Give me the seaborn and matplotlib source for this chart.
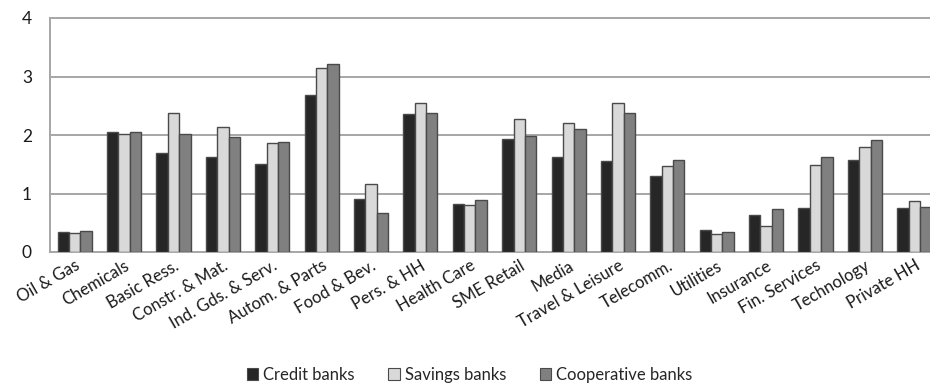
import matplotlib
matplotlib.use("Agg")
import matplotlib.pyplot as plt
from matplotlib.patches import Patch
import seaborn as sns
import pandas as pd

sectors = ["Oil & Gas", "Chemicals", "Basic Ress.", "Constr. & Mat.", "Ind. Gds. & Serv.",
           "Autom. & Parts", "Food & Bev.", "Pers. & HH", "Health Care", "SME Retail",
           "Media", "Travel & Leisure", "Telecomm.", "Utilities", "Insurance",
           "Fin. Services", "Technology", "Private HH"]
credit_banks = [0.34, 2.05, 1.70, 1.62, 1.50, 2.68, 0.90, 2.36, 0.82, 1.94,
                1.63, 1.55, 1.30, 0.38, 0.64, 0.75, 1.58, 0.75]
savings_banks = [0.32, 2.02, 2.38, 2.13, 1.86, 3.14, 1.17, 2.54, 0.80, 2.28,
                 2.21, 2.54, 1.47, 0.30, 0.44, 1.48, 1.79, 0.87]
cooperative_banks = [0.36, 2.05, 2.01, 1.97, 1.88, 3.22, 0.67, 2.37, 0.89, 1.98,
                     2.10, 2.38, 1.57, 0.34, 0.74, 1.63, 1.92, 0.77]
groups = ["Credit banks", "Savings banks", "Cooperative banks"]
colors = ["#262626", "#d9d9d9", "#808080"]
yticks = [0, 1, 2, 3, 4]

rows = []
for g, vals in zip(groups, [credit_banks, savings_banks, cooperative_banks]):
    for s, v in zip(sectors, vals):
        rows.append({"sector": s, "group": g, "value": v})
df = pd.DataFrame(rows)

sns.set_theme(style="white")
plt.rcParams["font.family"] = ["Lato", "DejaVu Sans"]

fig = plt.figure(figsize=(9.3, 3.92), dpi=100)
# plot area runs slightly past the right edge of the canvas
ax = fig.add_axes([50 / 930, 140 / 392, 889 / 930, 234 / 392])

sns.barplot(data=df, x="sector", y="value", hue="group", order=sectors,
            hue_order=groups, palette=colors, width=0.69, gap=0,
            edgecolor="#4a4a4a", linewidth=1.0, ax=ax, legend=False, zorder=3)

ax.set_xlim(-0.5, len(sectors) - 0.5)
ax.set_ylim(0, 4)
ax.set_yticks(yticks)
ax.set_yticklabels([str(t) for t in yticks], fontsize=12.5, color="#1a1a1a")
for t in yticks[1:]:
    ax.axhline(t, color="#a6a6a6", lw=1.4, zorder=1, clip_on=False)
ax.set_xlabel("")
ax.set_ylabel("")
ax.tick_params(axis="y", length=0, pad=13)
ax.tick_params(axis="x", length=0, pad=4)
ax.set_xticks(range(len(sectors)))
ax.set_xticklabels(sectors, rotation=30, ha="right", rotation_mode="anchor",
                   fontsize=12, color="#1a1a1a")
for side in ["top", "right"]:
    ax.spines[side].set_visible(False)
ax.spines["left"].set_color("#a6a6a6")
ax.spines["left"].set_linewidth(1.4)
ax.spines["bottom"].set_color("#a6a6a6")
ax.spines["bottom"].set_linewidth(1.4)

handles = [Patch(facecolor=c, edgecolor="#4a4a4a", linewidth=0.8) for c in colors]
fig.legend(handles, groups, loc="lower center", bbox_to_anchor=(0.505, -0.015),
           ncol=3, frameon=False, fontsize=12, handlelength=0.7,
           handleheight=0.7, handletextpad=0.3, columnspacing=2.0)

fig.savefig("out.png", dpi=100)
